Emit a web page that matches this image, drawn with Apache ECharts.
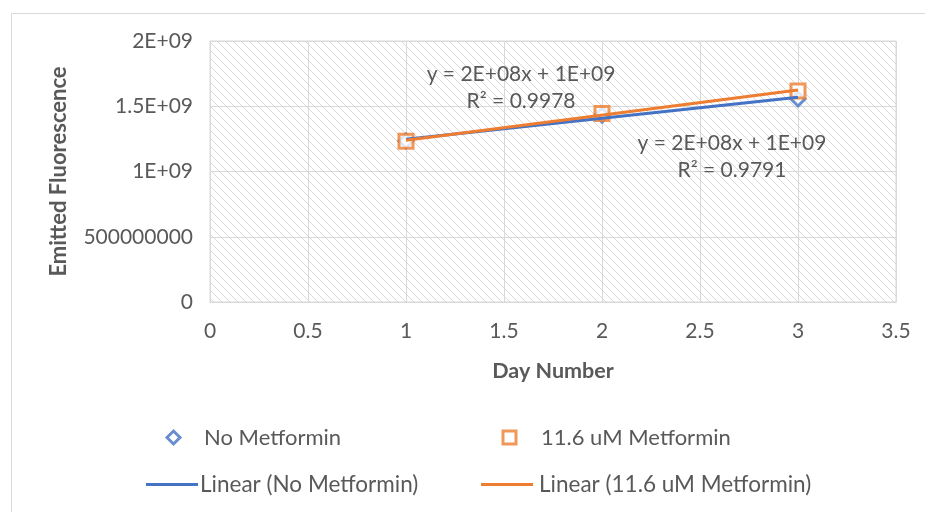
<!DOCTYPE html>
<html>
<head>
<meta charset="utf-8">
<script src="https://cdn.jsdelivr.net/npm/echarts@6/dist/echarts.min.js"></script>
<style>html,body{margin:0;padding:0;background:#fff}#c{width:925px;height:512px}</style>
</head>
<body>
<div id="c"></div>
<script>
// ---- data ----
const days = [1, 2, 3];
const noMetformin = [1.234e9, 1.432e9, 1.556e9];
const metformin116 = [1.232e9, 1.445e9, 1.617e9];
const yTickLabels = ["0", "500000000", "1E+09", "1.5E+09", "2E+09"];
const xTickLabels = ["0", "0.5", "1", "1.5", "2", "2.5", "3", "3.5"];
const eqNo = "y = 2E+08x + 1E+09\nR² = 0.9791";
const eqMet = "y = 2E+08x + 1E+09\nR² = 0.9978";
const seriesNames = ["No Metformin", "11.6 uM Metformin", "Linear (No Metformin)", "Linear (11.6 uM Metformin)"];

function fit(xs, ys) {
  const n = xs.length;
  const mx = xs.reduce((a, b) => a + b, 0) / n;
  const my = ys.reduce((a, b) => a + b, 0) / n;
  let sxy = 0, sxx = 0;
  for (let i = 0; i < n; i++) { sxy += (xs[i] - mx) * (ys[i] - my); sxx += (xs[i] - mx) ** 2; }
  const b = sxy / sxx, a = my - b * mx;
  const x0 = Math.min(...xs), x1 = Math.max(...xs);
  return [[x0, a + b * x0], [x1, a + b * x1]];
}

const BLUE = '#4472C4', ORANGE = '#ED7D31', TXT = '#595959', GRID = '#d9d9d9';
const FONT = 'Lato';

const pc = document.createElement('canvas');
pc.width = 8; pc.height = 8;
const g = pc.getContext('2d');
g.fillStyle = '#fff'; g.fillRect(0, 0, 8, 8);
g.fillStyle = '#d9d9d9';
for (let i = 0; i < 8; i++) g.fillRect(i, i, 1, 1);

const chart = echarts.init(document.getElementById('c'), null, { renderer: 'canvas' });

function legendSym(name, left, top, padLeft, color) {
  return {
    data: [{ name: name, itemStyle: { color: '#fff', borderColor: color, borderWidth: 3 } }],
    left: left, top: top, itemWidth: 13, itemHeight: 13,
    itemGap: 0, padding: 0,
    textStyle: { color: TXT, fontSize: 22, fontFamily: FONT, padding: [0, 0, 0, padLeft] },
    selectedMode: false
  };
}
function legendLine(name, left, top, color, padLeft) {
  return {
    data: [{ name: name, icon: 'rect', itemStyle: { color: color } }],
    left: left, top: top, itemWidth: 52, itemHeight: 3,
    itemGap: 0, padding: 0,
    textStyle: { color: TXT, fontSize: 22.5, fontFamily: FONT, padding: [0, 0, 0, padLeft] },
    selectedMode: false
  };
}

chart.setOption({
  backgroundColor: '#fff',
  animation: false,
  graphic: [{
    type: 'rect', left: 9, top: 11, shape: { width: 1000, height: 600 },
    style: { fill: 'none', stroke: GRID, lineWidth: 1 }, z: -10
  }],
  grid: {
    left: 210, right: 29, top: 41, bottom: 210, show: true,
    backgroundColor: { image: pc, repeat: 'repeat' }, borderColor: GRID, borderWidth: 1
  },
  legend: [
    legendSym(seriesNames[0], 165.5, 426.5, 19, BLUE),
    legendSym(seriesNames[1], 501.5, 426.5, 20, ORANGE),
    legendLine(seriesNames[2], 146, 473, BLUE, -3),
    legendLine(seriesNames[3], 481, 473, ORANGE, 1)
  ],
  xAxis: {
    type: 'value', min: 0, max: 3.5, interval: 0.5,
    name: 'Day Number', nameLocation: 'middle', nameGap: 58,
    nameTextStyle: { color: TXT, fontSize: 21.5, fontWeight: 'bold', fontFamily: FONT },
    axisLine: { show: true, lineStyle: { color: GRID } }, axisTick: { show: false },
    axisLabel: { color: TXT, fontSize: 21, fontFamily: FONT, margin: 19,
      formatter: v => xTickLabels[Math.round(v / 0.5)] },
    splitLine: { show: true, lineStyle: { color: GRID, width: 1 } }
  },
  yAxis: {
    type: 'value', min: 0, max: 2e9, interval: 5e8,
    name: 'Emitted Fluorescence', nameLocation: 'middle', nameGap: 140,
    nameTextStyle: { color: TXT, fontSize: 22, fontWeight: 'bold', fontFamily: FONT },
    axisLine: { show: false }, axisTick: { show: false },
    axisLabel: { color: TXT, fontSize: 21, fontFamily: FONT, margin: 17,
      formatter: v => yTickLabels[Math.round(v / 5e8)] },
    splitLine: { show: true, lineStyle: { color: GRID, width: 1 } }
  },
  series: [
    {
      name: seriesNames[0], type: 'scatter', symbol: 'diamond', symbolSize: 14,
      data: days.map((d, i) => [d, noMetformin[i]]),
      itemStyle: { color: '#fff', borderColor: BLUE, borderWidth: 3 }, z: 2
    },
    {
      name: seriesNames[1], type: 'scatter', symbol: 'rect', symbolSize: 14,
      data: days.map((d, i) => [d, metformin116[i]]),
      itemStyle: { color: '#fff', borderColor: ORANGE, borderWidth: 3 }, z: 3
    },
    {
      name: seriesNames[2], type: 'line', symbol: 'none',
      data: fit(days, noMetformin),
      lineStyle: { color: BLUE, width: 3 }, itemStyle: { color: BLUE }, z: 4,
      markPoint: {
        symbol: 'circle', symbolSize: 0, silent: true,
        data: [{ coord: [2.663, 1.115e9] }],
        label: { show: true, formatter: eqNo, color: TXT, fontSize: 21, fontFamily: FONT,
          lineHeight: 27, align: 'center', verticalAlign: 'middle' }
      }
    },
    {
      name: seriesNames[3], type: 'line', symbol: 'none',
      data: fit(days, metformin116),
      lineStyle: { color: ORANGE, width: 3 }, itemStyle: { color: ORANGE }, z: 5,
      markPoint: {
        symbol: 'circle', symbolSize: 0, silent: true,
        data: [{ coord: [1.587, 1.644e9] }],
        label: { show: true, formatter: eqMet, color: TXT, fontSize: 21, fontFamily: FONT,
          lineHeight: 27, align: 'center', verticalAlign: 'middle' }
      }
    }
  ]
});
</script>
</body>
</html>
